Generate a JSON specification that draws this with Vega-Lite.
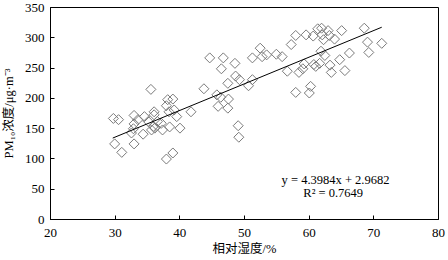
{
  "$schema": "https://vega.github.io/schema/vega-lite/v6.json",
  "width": 388,
  "height": 212,
  "autosize": {"type": "none"},
  "padding": {"left": 50, "top": 7, "right": 10, "bottom": 41},
  "background": "white",
  "config": {
    "view": {"stroke": "#000000", "strokeWidth": 1},
    "font": "Liberation Serif",
    "axis": {
      "grid": false,
      "domainColor": "#000000",
      "tickColor": "#000000",
      "labelColor": "#000000",
      "titleColor": "#000000",
      "labelFont": "Liberation Serif",
      "labelFontSize": 13,
      "titleFont": "Liberation Serif, Noto Sans CJK SC",
      "titleFontSize": 12.5,
      "titleFontWeight": "normal"
    }
  },
  "datasets": {
    "pts": [
      {"rh": 29.8, "pm": 166}, {"rh": 30.6, "pm": 164}, {"rh": 30.0, "pm": 124}, {"rh": 31.1, "pm": 110},
      {"rh": 33.0, "pm": 171}, {"rh": 33.0, "pm": 157}, {"rh": 32.9, "pm": 149}, {"rh": 32.6, "pm": 142},
      {"rh": 33.0, "pm": 124}, {"rh": 33.6, "pm": 164}, {"rh": 34.4, "pm": 140}, {"rh": 34.6, "pm": 169},
      {"rh": 35.2, "pm": 161}, {"rh": 35.6, "pm": 214}, {"rh": 35.7, "pm": 147}, {"rh": 36.0, "pm": 153},
      {"rh": 36.1, "pm": 177}, {"rh": 36.1, "pm": 172}, {"rh": 36.2, "pm": 150}, {"rh": 36.6, "pm": 161},
      {"rh": 37.4, "pm": 147}, {"rh": 37.2, "pm": 158}, {"rh": 38.0, "pm": 99}, {"rh": 38.2, "pm": 197},
      {"rh": 38.0, "pm": 187}, {"rh": 38.4, "pm": 177}, {"rh": 38.5, "pm": 152}, {"rh": 39.0, "pm": 198},
      {"rh": 39.0, "pm": 109}, {"rh": 39.2, "pm": 180}, {"rh": 39.6, "pm": 169}, {"rh": 40.1, "pm": 150},
      {"rh": 41.8, "pm": 177}, {"rh": 43.8, "pm": 215}, {"rh": 44.7, "pm": 266}, {"rh": 45.8, "pm": 205},
      {"rh": 46.0, "pm": 186}, {"rh": 46.4, "pm": 201}, {"rh": 46.5, "pm": 248}, {"rh": 46.8, "pm": 266},
      {"rh": 47.5, "pm": 183}, {"rh": 47.6, "pm": 198}, {"rh": 47.5, "pm": 224}, {"rh": 48.6, "pm": 257},
      {"rh": 48.7, "pm": 236}, {"rh": 49.1, "pm": 154}, {"rh": 49.2, "pm": 135}, {"rh": 49.3, "pm": 230},
      {"rh": 50.7, "pm": 220}, {"rh": 51.3, "pm": 230}, {"rh": 51.3, "pm": 266}, {"rh": 52.5, "pm": 282},
      {"rh": 52.8, "pm": 268}, {"rh": 53.5, "pm": 271}, {"rh": 55.0, "pm": 272}, {"rh": 55.9, "pm": 268},
      {"rh": 56.7, "pm": 244}, {"rh": 57.3, "pm": 288}, {"rh": 58.0, "pm": 303}, {"rh": 58.0, "pm": 209},
      {"rh": 58.5, "pm": 242}, {"rh": 59.1, "pm": 248}, {"rh": 59.3, "pm": 256}, {"rh": 59.6, "pm": 304},
      {"rh": 60.1, "pm": 208}, {"rh": 60.3, "pm": 219}, {"rh": 60.7, "pm": 302}, {"rh": 60.8, "pm": 255},
      {"rh": 61.1, "pm": 252}, {"rh": 61.4, "pm": 314}, {"rh": 61.7, "pm": 257}, {"rh": 61.9, "pm": 277},
      {"rh": 62.0, "pm": 315}, {"rh": 62.1, "pm": 304}, {"rh": 62.3, "pm": 296}, {"rh": 62.5, "pm": 270},
      {"rh": 63.0, "pm": 311}, {"rh": 63.3, "pm": 254}, {"rh": 63.5, "pm": 242}, {"rh": 63.2, "pm": 303},
      {"rh": 64.0, "pm": 297}, {"rh": 64.8, "pm": 263}, {"rh": 65.1, "pm": 311}, {"rh": 65.6, "pm": 245},
      {"rh": 66.3, "pm": 274}, {"rh": 68.6, "pm": 315}, {"rh": 69.1, "pm": 292}, {"rh": 69.3, "pm": 275},
      {"rh": 71.3, "pm": 290}
    ],
    "fit": [
      {"rh": 29.7, "pm": 133.6},
      {"rh": 71.3, "pm": 316.6}
    ]
  },
  "encoding": {
    "x": {
      "field": "rh", "type": "quantitative",
      "scale": {"domain": [20, 80], "nice": false, "zero": false},
      "axis": {"title": "相对湿度/%", "values": [20, 30, 40, 50, 60, 70, 80], "tickSize": -4, "labelPadding": 11, "titlePadding": 3, "labelFlush": false, "labelOverlap": false}
    },
    "y": {
      "field": "pm", "type": "quantitative",
      "scale": {"domain": [0, 350], "nice": false},
      "axis": {"title": "PM₁₀浓度/μg·m⁻³", "values": [0, 50, 100, 150, 200, 250, 300, 350], "tickSize": -4, "labelPadding": 10, "titlePadding": 9, "labelOverlap": false, "labelFlush": false, "labelBound": false}
    }
  },
  "layer": [
    {
      "data": {"name": "pts"},
      "mark": {"type": "point", "shape": "diamond", "size": 100, "filled": false, "stroke": "#7a7a7a", "strokeWidth": 1, "opacity": 1}
    },
    {
      "data": {"name": "fit"},
      "mark": {"type": "line", "color": "#000000", "strokeWidth": 1}
    },
    {
      "data": {"values": [{"rh": 64.15, "pm": 64.8}]},
      "mark": {"type": "text", "text": "y = 4.3984x + 2.9682", "font": "Liberation Serif", "fontSize": 12.5, "align": "center", "baseline": "middle", "color": "#000000"}
    },
    {
      "data": {"values": [{"rh": 63.8, "pm": 42.5}]},
      "mark": {"type": "text", "text": "R² = 0.7649", "font": "Liberation Serif", "fontSize": 12.5, "align": "center", "baseline": "middle", "color": "#000000"}
    }
  ]
}
